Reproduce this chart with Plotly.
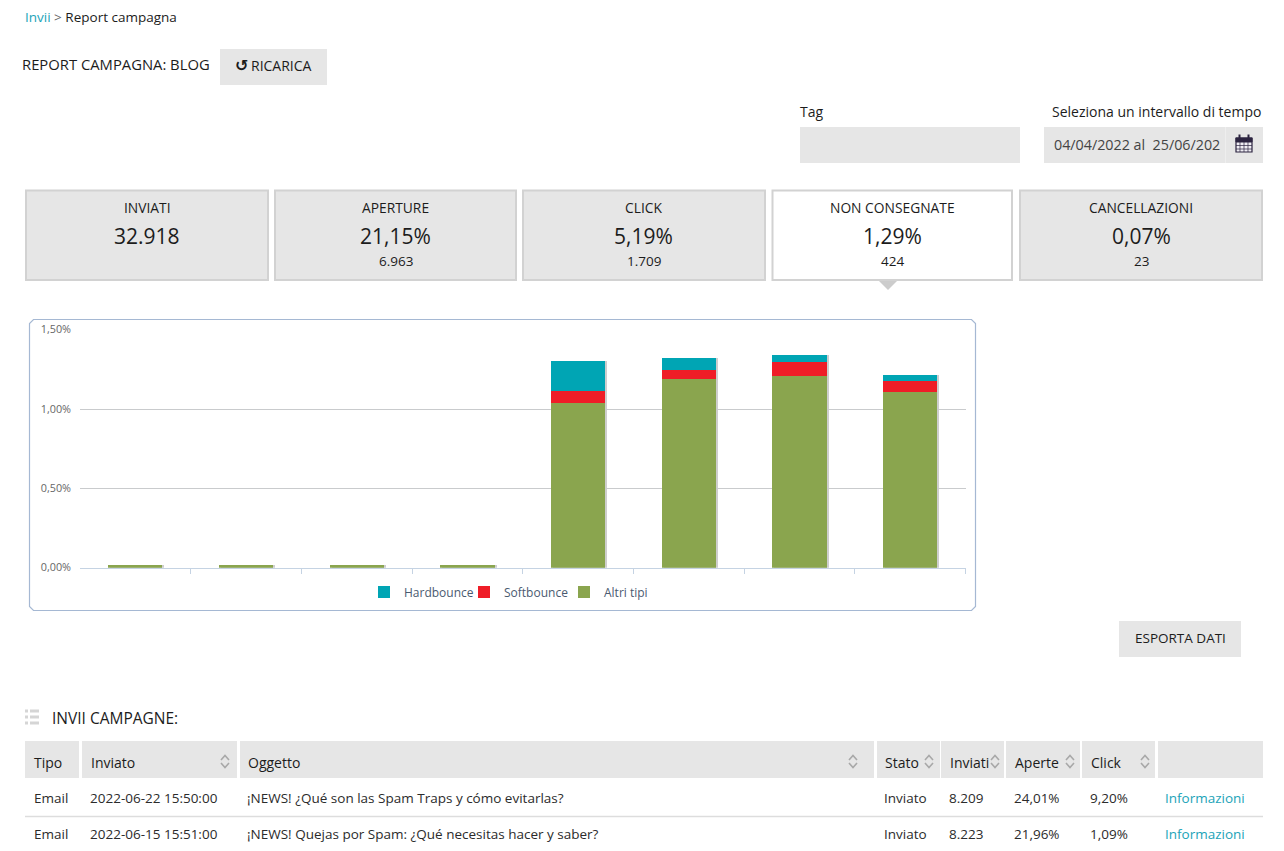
import plotly.graph_objects as go

W, H = 1284, 851

# chart values
slots = [0, 1, 2, 3, 4, 5, 6, 7]
slot_edges = [0.5, 1.5, 2.5, 3.5, 4.5, 5.5, 6.5, 7.5]
altri = [0.017, 0.017, 0.017, 0.017, 1.04, 1.189, 1.208, 1.109]
soft = [0, 0, 0, 0, 0.073, 0.057, 0.09, 0.065]
hard = [0, 0, 0, 0, 0.192, 0.073, 0.04, 0.04]
totals = [a + s + h for a, s, h in zip(altri, soft, hard)]

card_titles = ['INVIATI', 'APERTURE', 'CLICK', 'NON CONSEGNATE', 'CANCELLAZIONI']
card_values = ['32.918', '21,15%', '5,19%', '1,29%', '0,07%']
card_counts = ['', '6.963', '1.709', '424', '23']

table_head = ['Tipo', 'Inviato', 'Oggetto', 'Stato', 'Inviati', 'Aperte', 'Click']
row_1 = ['Email', '2022-06-22 15:50:00', '¡NEWS! ¿Qué son las Spam Traps y cómo evitarlas?',
         'Inviato', '8.209', '24,01%', '9,20%', 'Informazioni']
row_2 = ['Email', '2022-06-15 15:51:00', '¡NEWS! Quejas por Spam: ¿Qué necesitas hacer y saber?',
         'Inviato', '8.223', '21,96%', '1,09%', 'Informazioni']

FONT = 'Open Sans'
INK = '#1c1c1c'
GREY = '#e6e6e6'
EDGE = '#d2d2d2'
LINK = '#1ba3b8'


def px(x):
    return x / W


def py(y):
    return 1 - y / H


shapes = []
notes = []


def box(x0, y0, x1, y1, fill=GREY, line=None, width=0):
    shapes.append(dict(type='rect', xref='paper', yref='paper', layer='below',
                       x0=px(x0), x1=px(x1), y0=py(y0), y1=py(y1), fillcolor=fill,
                       line=dict(color=line or fill, width=width)))


def poly(points, close=False, fill=None, line=None, width=1):
    path = 'M' + ' L'.join(f'{px(x):.5f},{py(y):.5f}' for x, y in points)
    shapes.append(dict(type='path', xref='paper', yref='paper', layer='below',
                       path=path + (' Z' if close else ''), fillcolor=fill,
                       line=dict(color=line or 'rgba(0,0,0,0)', width=width)))


def label(x, y, text, size=14, color=INK, anchor='left', family=FONT):
    notes.append(dict(xref='paper', yref='paper', x=px(x), y=py(y), text=text, showarrow=False,
                      xanchor=anchor, yanchor='middle', borderpad=0,
                      font=dict(family=family, size=size, color=color)))


def carets(x):
    poly([(x - 4, 760), (x, 755.5), (x + 4, 760)], line='#a8a8a8', width=1.6)
    poly([(x - 4, 763), (x, 767.5), (x + 4, 763)], line='#a8a8a8', width=1.6)


# top of the page
label(24, 17, '<span style="color:%s">Invii</span><span style="color:#666"> &gt; </span>Report campagna' % LINK, 13.5)
label(21, 64, 'REPORT CAMPAGNA: BLOG', 14.8)
box(220, 49, 327, 85)
label(234, 65, '<b>↺</b>', 16, INK, family='DejaVu Sans')
label(250, 66, 'RICARICA', 14)

label(799, 112, 'Tag', 14)
box(800, 127, 1020, 163)
label(1051, 112, 'Seleziona un intervallo di tempo', 14)
box(1044, 127, 1263, 163)
poly([(1225.5, 127), (1225.5, 163)], line='#eeeeee', width=1)
label(1053, 144, '04/04/2022 al\u00a0 25/06/202', 14.3, '#444444')

# calendar icon
box(1236, 138, 1252, 152, fill='#f0eef4', line='#2c2440', width=1.2)
box(1236, 138, 1252, 142, fill='#2c2440', line='#2c2440', width=1)
for gx in (1240, 1244, 1248):
    poly([(gx, 142), (gx, 152)], line='#2c2440', width=0.7)
for gy in (145.5, 149):
    poly([(1236, gy), (1252, gy)], line='#2c2440', width=0.7)
for gx in (1239.5, 1248.5):
    poly([(gx, 134.5), (gx, 139)], line='#2c2440', width=2)

# cards
card_x = [(26, 268), (275, 516), (523, 765), (772.5, 1012), (1020, 1262)]
for i, (x0, x1) in enumerate(card_x):
    active = card_titles[i] == 'NON CONSEGNATE'
    box(x0, 190.5, x1, 280, fill='#ffffff' if active else GREY, line=EDGE, width=2)
    mid = (x0 + x1) / 2
    label(mid, 207.5, card_titles[i], 13.8, anchor='center')
    label(mid, 236, card_values[i], 21, anchor='center')
    if card_counts[i]:
        label(mid, 261, card_counts[i], 13.5, anchor='center')
poly([(879, 281), (897, 281), (888, 290)], close=True, fill='#cccccc')

# chart frame
fx0, fy0, fx1, fy1 = 29.5, 319.5, 975.5, 610.5
poly([(fx0 + 4, fy0), (fx1 - 4, fy0), (fx1, fy0 + 4), (fx1, fy1 - 4), (fx1 - 4, fy1),
      (fx0 + 4, fy1), (fx0, fy1 - 4), (fx0, fy0 + 4)], close=True, fill='#ffffff',
     line='#a5b8d3', width=1.2)

box(1119, 621, 1241, 657)
label(1180, 638, 'ESPORTA DATI', 13.5, anchor='center')

# table heading
for sy in (711, 717, 723):
    box(25, sy - 1.5, 28, sy + 1.5, fill='#d5d5d5')
    box(30, sy - 1.5, 39, sy + 1.5, fill='#d5d5d5')
label(51, 718, 'INVII CAMPAGNE:', 15.5)

# table
head_x = [(25, 79), (82, 237), (240, 874), (877, 940), (941, 1004), (1006, 1080), (1082, 1155), (1158, 1263)]
for x0, x1 in head_x:
    box(x0, 741, x1, 778)
head_text_x = [33, 90, 247, 884, 949, 1014, 1090]
for x, text in zip(head_text_x, table_head):
    label(x, 762, text, 14)
for x in (225, 853, 929, 995, 1070, 1145):
    carets(x)
row_text_x = [33, 89, 246, 883, 948, 1013, 1089, 1164]
for y, row in ((798, row_1), (834, row_2)):
    for x, text in zip(row_text_x, row):
        label(x, y, text, 13.5, LINK if text == 'Informazioni' else '#2b2b2b')
poly([(25, 816.5), (1263, 816.5)], line='#dddddd', width=1.5)

fig = go.Figure()

# soft shadow behind the columns, on its own slightly shifted axes
fig.add_trace(go.Bar(x=slots, y=totals, marker=dict(color='rgba(60,60,60,0.25)', line=dict(width=0)),
                     showlegend=False, hoverinfo='skip', xaxis='x', yaxis='y'))
for name, vals, col in (('Altri tipi', altri, '#8aa54e'),
                        ('Softbounce', soft, '#ef1d27'),
                        ('Hardbounce', hard, '#00a5b4')):
    fig.add_trace(go.Bar(x=slots, y=vals, name=name, xaxis='x2', yaxis='y2',
                         marker=dict(color=col, line=dict(width=0))))

x_dom = [px(80), px(965.5)]
y_dom = [py(567.7), py(329.7)]
fig.update_layout(
    width=W, height=H, autosize=False,
    margin=dict(l=0, r=0, t=0, b=0, pad=0, autoexpand=False),
    paper_bgcolor='#ffffff', plot_bgcolor='rgba(0,0,0,0)',
    barmode='stack', bargap=0.51, separators=',.',
    font=dict(family=FONT, color=INK),
    shapes=shapes, annotations=notes,
    xaxis=dict(domain=[px(82), px(967.5)], range=[-0.5, 7.5], visible=False, fixedrange=True, anchor='y'),
    yaxis=dict(domain=[py(567.7), py(329.7)], range=[0, 1.5], visible=False, fixedrange=True, anchor='x'),
    xaxis2=dict(domain=x_dom, range=[-0.5, 7.5], anchor='y2', tickvals=slot_edges, ticks='outside',
                ticklen=5, tickcolor='#c5d3e3', tickwidth=1, showticklabels=False, showgrid=False,
                showline=True, linecolor='#c5d3e3', linewidth=1, zeroline=False, fixedrange=True),
    yaxis2=dict(domain=y_dom, range=[0, 1.5], anchor='x2', dtick=0.5, tickformat='.2f', ticksuffix='%',
                ticks='', ticklabelstandoff=8, showgrid=True, gridcolor='#c9cbcd', gridwidth=1,
                zeroline=False, showline=False, fixedrange=True,
                tickfont=dict(family=FONT, size=10.8, color='#666666')),
    legend=dict(orientation='h', traceorder='reversed', x=px(364), y=py(592), xanchor='left', yanchor='middle',
                bgcolor='rgba(0,0,0,0)', font=dict(family=FONT, size=12, color='#4a5a70'),
                entrywidth=55, entrywidthmode='pixels', itemclick=False, itemdoubleclick=False),
)

fig.write_html('out.html', config=dict(displayModeBar=False),
               post_script="document.body.style.margin='0';")
